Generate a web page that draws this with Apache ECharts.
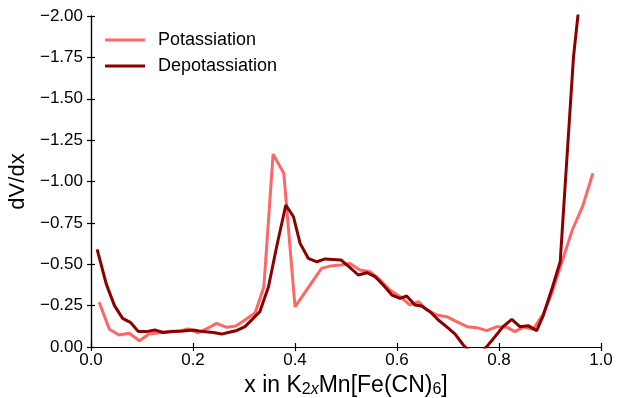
<!DOCTYPE html>
<html><head><meta charset="utf-8">
<script src="https://cdn.jsdelivr.net/npm/echarts@6/dist/echarts.min.js"></script>
<style>html,body{margin:0;padding:0;background:#fff;overflow:hidden}#c{width:618px;height:398px}</style>
</head><body><div id="c"></div>
<script>
const potX = [0.016,0.036,0.055,0.075,0.095,0.114,0.134,0.154,0.173,0.190,0.210,0.230,0.246,0.266,0.284,0.302,0.322,0.339,0.357,0.378,0.400,0.452,0.470,0.490,0.508,0.527,0.547,0.567,0.586,0.606,0.625,0.642,0.658,0.678,0.697,0.717,0.737,0.756,0.776,0.796,0.815,0.831,0.848,0.867,0.887,0.903,0.923,0.944,0.964,0.984];
const potY = [-0.27,-0.107,-0.072,-0.083,-0.038,-0.078,-0.086,-0.095,-0.095,-0.109,-0.086,-0.115,-0.143,-0.119,-0.127,-0.163,-0.207,-0.364,-1.165,-1.05,-0.243,-0.475,-0.49,-0.495,-0.505,-0.465,-0.455,-0.405,-0.344,-0.304,-0.254,-0.274,-0.224,-0.193,-0.183,-0.153,-0.123,-0.117,-0.099,-0.123,-0.12,-0.093,-0.12,-0.107,-0.2,-0.32,-0.51,-0.71,-0.85,-1.05];
const depX = [0.012,0.030,0.046,0.062,0.078,0.093,0.109,0.125,0.142,0.161,0.181,0.200,0.220,0.240,0.256,0.269,0.286,0.302,0.318,0.331,0.348,0.364,0.382,0.397,0.410,0.426,0.443,0.459,0.490,0.508,0.524,0.541,0.557,0.573,0.590,0.606,0.619,0.635,0.648,0.665,0.681,0.697,0.714,0.730,0.750,0.765,0.776,0.792,0.808,0.825,0.841,0.857,0.874,0.887,0.903,0.920,0.946,0.965];
const depY = [-0.59,-0.38,-0.25,-0.173,-0.147,-0.093,-0.093,-0.103,-0.088,-0.093,-0.097,-0.103,-0.093,-0.088,-0.078,-0.088,-0.1,-0.123,-0.173,-0.213,-0.364,-0.606,-0.858,-0.787,-0.626,-0.536,-0.515,-0.532,-0.526,-0.48,-0.435,-0.449,-0.425,-0.375,-0.314,-0.294,-0.308,-0.254,-0.248,-0.213,-0.163,-0.123,-0.078,-0.012,0.05,0.03,-0.002,-0.062,-0.123,-0.167,-0.123,-0.129,-0.099,-0.193,-0.344,-0.515,-1.75,-2.3];
const seriesNames = ['Potassiation','Depotassiation'];
const xTitle = 'x in K{sub|2}{subi|x}Mn[Fe(CN){sub|6}]';
const yTitle = 'dV/dx';

const FONT = '"Liberation Sans", Arial, sans-serif';
const zip = (a,b) => a.map((v,i)=>[v,b[i]]);
const axisLineS = {show:true, lineStyle:{color:'#000', width:1.2}};
const tickS = {show:true, inside:true, length:4, lineStyle:{color:'#000', width:1.2}};
const subStyle = {fontFamily:FONT, fontSize:16, color:'#000', verticalAlign:'bottom', padding:[9,0,0,0]};
const chart = echarts.init(document.getElementById('c'), null, {renderer:'canvas', width:618, height:398});
chart.setOption({
  animation:false,
  backgroundColor:'#fff',
  grid:{left:91, right:17, top:16, bottom:51, containLabel:false, outerBoundsMode:'none'},
  legend:{
    orient:'vertical', left:105, top:31, padding:0, itemWidth:40, itemHeight:3, itemGap:8,
    icon:'rect',
    textStyle:{fontFamily:FONT, fontSize:18, color:'#000', padding:[0,0,0,8]},
    data:seriesNames
  },
  xAxis:[{
    type:'value', min:0, max:1, interval:0.2, position:'bottom',
    axisLine:axisLineS, axisTick:tickS, splitLine:{show:false},
    axisLabel:{fontFamily:FONT, fontSize:17, color:'#000', margin:5, formatter:v=>v.toFixed(1)},
    name:xTitle, nameLocation:'middle', nameGap:24,
    nameTextStyle:{fontFamily:FONT, fontSize:23, color:'#000',
      rich:{sub:subStyle, subi:Object.assign({}, subStyle, {fontStyle:'italic'})}}
  },{
    type:'value', min:0, max:1, interval:0.2, position:'top',
    axisLine:axisLineS, axisTick:tickS, axisLabel:{show:false}, splitLine:{show:false}
  }],
  yAxis:[{
    type:'value', min:-2, max:0, interval:0.25, inverse:true, position:'left',
    axisLine:axisLineS, axisTick:tickS, splitLine:{show:false},
    axisLabel:{fontFamily:FONT, fontSize:17, color:'#000', margin:8,
      formatter:v=>(v<0?'\u2212':'')+Math.abs(v).toFixed(2)},
    name:yTitle, nameLocation:'middle', nameGap:57, nameRotate:90,
    nameTextStyle:{fontFamily:FONT, fontSize:22, color:'#000'}
  },{
    type:'value', min:-2, max:0, interval:0.25, inverse:true, position:'right',
    axisLine:axisLineS, axisTick:tickS, axisLabel:{show:false}, splitLine:{show:false}
  }],
  series:[{
    name:seriesNames[0], type:'line', data:zip(potX,potY), showSymbol:false, symbol:'none',
    clip:true, lineStyle:{color:'#ff6666', width:3}, itemStyle:{color:'#ff6666'}, z:2
  },{
    name:seriesNames[1], type:'line', data:zip(depX,depY), showSymbol:false, symbol:'none',
    clip:true, lineStyle:{color:'#8b0000', width:3}, itemStyle:{color:'#8b0000'}, z:3
  }]
});
</script></body></html>
